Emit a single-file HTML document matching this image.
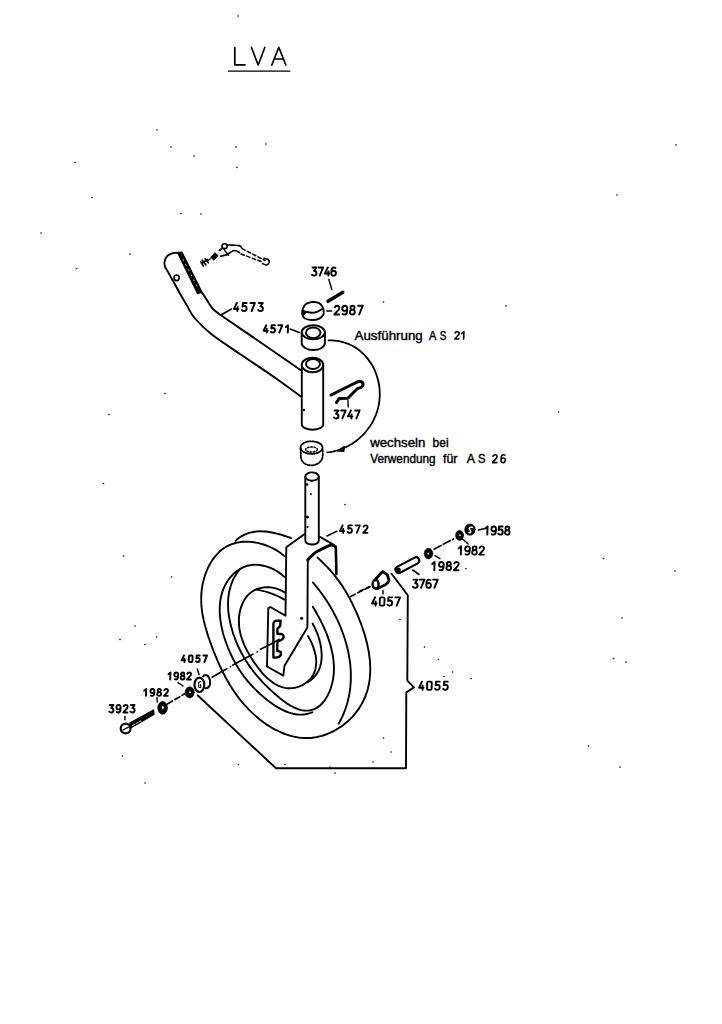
<!DOCTYPE html>
<html><head><meta charset="utf-8"><style>
html,body{margin:0;padding:0;background:#fff;width:722px;height:1024px;overflow:hidden}
svg{display:block;position:absolute;left:0;top:0}
</style></head><body>
<svg width="722" height="1024" viewBox="0 0 722 1024">
<g fill="none" stroke="#000" stroke-linecap="round" stroke-linejoin="round">
<path d="M234.8 47.5 L234.8 64.8 L245.0 64.8" stroke-width="1.7"/>
<path d="M251.5 47.5 L258.2 65.0 L264.8 47.5" stroke-width="1.7"/>
<path d="M271.8 65.0 L278.8 47.3 L285.8 65.0" stroke-width="1.7"/>
<path d="M274.3 59.0 L283.3 59.0" stroke-width="1.7"/>
<path d="M228.5 71.2 L289.8 71.2" stroke-width="1.2"/>
<path d="M173.7 252.9 C172.7 253.4 169.0 254.4 167.5 255.8 C166.0 257.2 165.0 259.8 164.6 261.6 C164.2 263.4 164.4 264.8 165.0 266.6 C165.6 268.4 167.1 270.2 168.3 272.4 C169.6 274.6 171.8 278.7 172.5 280.0" stroke-width="1.9"/>
<path d="M172.5 280.0 C174.8 284.2 182.9 298.7 186.6 305.0 C190.3 311.3 190.5 313.2 194.6 318.0 C198.7 322.8 203.6 328.0 211.2 334.0 C218.8 340.0 228.9 346.4 240.0 354.0 C251.1 361.6 267.8 372.6 277.9 379.7 C288.0 386.8 297.0 393.7 300.8 396.5" stroke-width="1.9"/>
<path d="M173.7 252.9 L178.5 252.7" stroke-width="1.9"/>
<path d="M177.9 252.9 L181.8 252.3 L201.8 292 L197.6 293.4 Z" stroke-width="1.6" fill="#000"/>
<path d="M183.0 259.5 L197.5 287.0" stroke-width="0.8" stroke="#fff" stroke-dasharray="0.8 5"/>
<path d="M201.6 292.5 C202.1 293.1 203.3 294.5 204.3 296.0 C205.3 297.5 206.4 299.3 207.8 301.5 C209.2 303.7 210.8 306.7 213.0 309.0 C215.2 311.3 213.2 309.8 221.0 315.3 C228.8 320.8 246.8 332.9 260.0 342.0 C273.2 351.1 293.8 365.3 300.5 370.0" stroke-width="1.9"/>
<ellipse cx="176.6" cy="277.8" rx="2.6" ry="2.8" stroke-width="1.6"/>
<path d="M201.5 263.5 L207.5 259.5 M202 260 L206 265 M200.8 261.8 L203.5 266 M205 258.8 L208.3 262.8" stroke-width="1.6"/>
<path d="M207.8 260.8 L210.5 258.8" stroke-width="1.3"/>
<path d="M212.0 259.0 L216.8 254.0" stroke-width="5.0" stroke-linecap="butt"/>
<ellipse cx="224.6" cy="246.2" rx="2.6" ry="2.4" stroke-width="1.6"/>
<path d="M227.2 245.0 C228.2 245.0 230.9 245.1 233.0 245.2 C235.1 245.3 238.1 245.2 239.5 245.6 C240.9 246.0 241.2 247.2 241.5 247.5" stroke-width="1.7"/>
<path d="M219.5 250.0 L222.5 248.0" stroke-width="1.5"/>
<path d="M219.5 250.5 C220.1 250.2 222.2 248.5 223.0 248.4 C223.8 248.3 223.7 249.1 224.3 249.8 C224.9 250.5 225.7 251.6 226.4 252.5 C227.1 253.4 228.2 254.8 228.5 255.3" stroke-width="1.4"/>
<path d="M220.5 256.2 C221.6 255.9 225.2 255.3 227.0 254.6 C228.8 253.9 229.9 252.5 231.2 251.8 C232.5 251.1 233.3 250.4 234.7 250.5 C236.1 250.6 238.7 252.2 239.5 252.5" stroke-width="1.7"/>
<path d="M242.0 248.6 L265.0 260.5" stroke-width="1.5" stroke-dasharray="3.5 2.5"/>
<path d="M241.0 254.0 L261.0 261.5" stroke-width="1.5" stroke-dasharray="3.5 2.5"/>
<path d="M264.0 258.3 C264.7 258.5 267.1 258.8 268.0 259.5 C268.9 260.2 269.4 261.6 269.2 262.5 C268.9 263.4 267.6 264.8 266.5 265.0 C265.4 265.2 263.2 263.8 262.5 263.5" stroke-width="1.6"/>
<path d="M328.0 301.3 L342.8 292.3" stroke-width="3.4"/>
<path d="M328.8 279.4 L331.8 289.5" stroke-width="1.5"/>
<path d="M312.6 301.8 C313.6 302.0 316.9 302.1 318.5 302.8 C320.1 303.5 321.2 304.8 322.0 306.0 C322.8 307.2 323.3 308.6 323.5 310.0 C323.7 311.4 324.1 313.1 323.4 314.5 C322.7 315.9 321.3 317.7 319.3 318.6 C317.3 319.5 313.8 320.1 311.3 320.0 C308.9 319.9 306.1 319.1 304.6 318.2 C303.1 317.3 302.6 316.1 302.3 314.6 C302.0 313.2 302.1 311.2 302.6 309.5 C303.2 307.8 303.9 305.5 305.6 304.2 C307.3 302.9 311.4 302.2 312.6 301.8" stroke-width="1.9"/>
<path d="M303.2 311.3 C303.7 311.4 304.6 311.4 306.0 311.6 C307.4 311.9 309.5 312.8 311.3 312.8 C313.1 312.8 315.2 312.4 317.0 311.8 C318.8 311.2 321.0 309.6 321.8 309.2" stroke-width="1.9"/>
<path d="M302.6 310 L306.3 312 L303 316.2 Z" stroke-width="1.0" fill="#000"/>
<path d="M326.8 311.0 L331.5 311.0" stroke-width="1.6"/>
<ellipse cx="313.3" cy="332.3" rx="11.6" ry="7.0" stroke-width="1.9"/>
<ellipse cx="313.2" cy="332.8" rx="7.3" ry="5.3" stroke-width="1.9"/>
<path d="M301.7 332.3 L301.7 343 A11.6 7 0 0 0 324.9 343 L324.9 332.3" stroke-width="1.9"/>
<path d="M290.3 329.0 L299.3 332.4" stroke-width="1.6"/>
<ellipse cx="312.5" cy="365.0" rx="10.8" ry="7.2" stroke-width="1.9"/>
<ellipse cx="313.0" cy="364.0" rx="7.0" ry="5.0" stroke-width="1.9"/>
<path d="M301.8 365 L301.8 424.5 A10.7 5.2 0 0 0 323.2 424.5 L323.2 365" stroke-width="1.9"/>
<circle cx="304.0" cy="410.0" r="1.2" fill="#000" stroke="none"/>
<path d="M331 395 L349 386 L358.5 381.3 C362 380.8 364 383.5 362.5 386 C361.5 387.5 359.5 388.3 357.5 388.5 L347.8 398.3 L339 398.6 L336.5 402.5" stroke-width="3.0"/>
<path d="M348.0 400.5 L348.2 407.0" stroke-width="1.4"/>
<path d="M328.6 340.4 L331.6 340.4 L334.5 340.6 L337.3 340.9 L340.0 341.4 L342.7 342.0 L345.2 342.8 L347.7 343.7 L350.1 344.7 L352.4 345.8 L354.7 347.1 L356.8 348.5 L358.9 350.0 L360.9 351.6 L362.7 353.3 L364.5 355.0 L366.2 356.9 L367.8 358.9 L369.3 360.9 L370.7 363.0 L372.1 365.1 L373.3 367.4 L374.4 369.6 L375.4 372.0 L376.3 374.4 L377.1 376.8 L377.8 379.2 L378.4 381.7 L378.9 384.2 L379.3 386.7 L379.6 389.3 L379.7 391.8 L379.8 394.4 L379.7 396.9 L379.5 399.4 L379.3 402.0 L378.8 404.5 L378.3 407.0 L377.7 409.4 L377.0 411.9 L376.1 414.3 L375.1 416.7 L374.1 419.0 L372.9 421.3 L371.7 423.5 L370.3 425.7 L368.8 427.8 L367.3 429.8 L365.7 431.8 L364.0 433.8 L362.2 435.6 L360.3 437.4 L358.4 439.1 L356.3 440.8 L354.2 442.3 L352.1 443.7 L349.8 445.1 L347.6 446.3 L345.2 447.5 L342.8 448.5 L340.3 449.5 L337.8 450.3 L335.2 451.0 L332.6 451.6 L330.0 452.1 L327.3 452.4" stroke-width="1.8"/>
<path d="M337.5 450.8 L344.5 446.3 L343.8 451.5 Z" stroke-width="1.2" fill="#000"/>
<ellipse cx="311.5" cy="447.6" rx="11.0" ry="6.3" stroke-width="1.8" stroke-dasharray="2.2 1.3"/>
<ellipse cx="311.5" cy="449.5" rx="5.8" ry="2.6" stroke-width="1.5" stroke-dasharray="1.6 1.6"/>
<path d="M300.6 448 L300.8 456 C301 462 305 465.3 311 465.3 C317 465.3 322 462 322.8 456 L322.6 448" stroke-width="1.8" stroke-dasharray="2.4 1.6"/>
<ellipse cx="312.0" cy="476.6" rx="6.7" ry="4.2" stroke-width="1.9"/>
<path d="M305.3 476.6 L305.3 540.5 A6.75 4 0 0 0 318.8 540.5 L318.8 476.6" stroke-width="1.9"/>
<circle cx="307.0" cy="484.5" r="1.3" fill="#000" stroke="none"/>
<circle cx="311.0" cy="494.0" r="0.9" fill="#000" stroke="none"/>
<circle cx="307.5" cy="517.0" r="1.5" fill="#000" stroke="none"/>
<circle cx="307.5" cy="527.0" r="1.1" fill="#000" stroke="none"/>
<path d="M327.0 536.0 L336.8 531.3" stroke-width="1.6"/>
<path d="M304.3 534.2 L286.3 547.3 L285.5 615.8 L270.4 607.0 L268.3 608.3 L267.0 666.5 L283.3 675.6 L284.5 665.7 L307.4 627.4 L307.8 559.8" stroke-width="1.9"/>
<path d="M307.8 559.8 C308.6 559.0 310.9 556.5 312.6 555.0 C314.3 553.5 315.0 552.6 318.0 551.0 C321.0 549.4 327.7 545.9 330.6 545.2 C333.5 544.5 334.7 546.4 335.5 546.6" stroke-width="3.0"/>
<path d="M318.9 536.2 L332.0 543.9 L335.8 547.0" stroke-width="1.9"/>
<path d="M335.8 547.0 L336.4 573.9" stroke-width="2.6"/>
<path d="M273.4 657.5 L273.4 623.5 C274 621.2 275.5 620.6 277 620.6 L280.6 620.8 L280.2 626 L277.4 628.8 L277.4 633.8 L282.2 634.3 C284.3 635.6 284.3 638.6 281.3 640 L277.4 641.6 L277.2 650.8 L280.8 651.8 L280.8 655 C279.8 657 277.5 658 273.4 657.5 Z" stroke-width="2.4"/>
<circle cx="301.6" cy="618.3" r="1.5" fill="#000" stroke="none"/>
<path d="M284.3 556.1 L282.3 554.4 L280.2 552.8 L278.0 551.3 L275.8 549.9 L273.4 548.6 L271.1 547.5 L268.7 546.4 L266.2 545.4 L263.7 544.5 L261.2 543.8 L258.7 543.1 L256.1 542.6 L253.6 542.2 L251.1 541.9 L248.5 541.8 L246.0 541.7 L243.5 541.8 L241.1 542.0 L238.7 542.4 L236.3 542.8 L234.0 543.5 L231.7 544.2 L229.5 545.1 L227.4 546.1 L225.3 547.3 L223.3 548.6 L221.4 550.1 L219.6 551.6 L217.9 553.3 L216.3 555.1 L214.7 556.9 L213.2 558.9 L211.8 561.0 L210.5 563.1 L209.3 565.3 L208.1 567.6 L207.1 569.9 L206.1 572.3 L205.2 574.7 L204.4 577.2 L203.7 579.7 L203.1 582.2 L202.5 584.7 L202.1 587.2 L201.7 589.8 L201.5 592.3 L201.3 594.8 L201.2 597.4 L201.2 599.9 L201.3 602.4 L201.4 604.9 L201.6 607.4 L201.9 609.9 L202.2 612.4 L202.6 614.9 L203.1 617.3 L203.6 619.8 L204.2 622.2 L204.8 624.7 L205.5 627.1 L206.2 629.6 L206.9 632.0 L207.6 634.4 L208.4 636.9 L209.3 639.3 L210.1 641.7 L211.0 644.1 L211.8 646.4 L212.7 648.8 L213.6 651.2 L214.6 653.6 L215.5 655.9 L216.5 658.2 L217.5 660.6 L218.5 662.9 L219.5 665.2 L220.6 667.5 L221.7 669.7 L222.8 672.0 L223.9 674.2 L225.1 676.5 L226.3 678.7 L227.5 680.8 L228.8 683.0 L230.0 685.2 L231.4 687.3 L232.7 689.4 L234.1 691.5 L235.5 693.5 L237.0 695.6 L238.5 697.6 L240.0 699.6 L241.6 701.5 L243.2 703.4 L244.9 705.3 L246.6 707.2 L248.4 709.1 L250.2 710.9 L252.0 712.7 L253.9 714.4 L255.8 716.1 L257.7 717.8 L259.7 719.4 L261.8 721.0 L263.8 722.5 L265.9 724.0 L268.0 725.4 L270.2 726.8 L272.4 728.1 L274.6 729.3 L276.8 730.4 L279.1 731.5 L281.4 732.6 L283.7 733.5 L286.0 734.4 L288.3 735.1 L290.7 735.8 L293.0 736.4 L295.4 736.9 L297.8 737.4 L300.2 737.7 L302.6 737.9 L305.0 738.0 L307.5 738.0 L309.9 738.0 L312.3 737.8 L314.8 737.4 L317.2 737.0 L319.6 736.4 L322.1 735.8 L324.5 735.0 L326.9 734.1 L329.2 733.2 L331.6 732.1 L333.9 730.9 L336.2 729.6 L338.4 728.3 L340.6 726.9 L342.7 725.4 L344.8 723.8 L346.8 722.1 L348.7 720.4 L350.6 718.6 L352.4 716.8 L354.1 714.9 L355.7 712.9 L357.2 710.9 L358.7 708.9 L360.1 706.8 L361.3 704.6 L362.5 702.5 L363.6 700.2 L364.7 698.0 L365.6 695.7 L366.4 693.4 L367.2 691.1 L367.9 688.7 L368.4 686.3 L368.9 683.9 L369.4 681.5 L369.7 679.1 L369.9 676.7 L370.1 674.2 L370.2 671.7 L370.3 669.2 L370.2 666.7 L370.1 664.2 L370.0 661.7 L369.7 659.2 L369.4 656.7 L369.1 654.2 L368.7 651.6 L368.2 649.1 L367.7 646.6 L367.2 644.1 L366.5 641.6 L365.9 639.1 L365.2 636.6 L364.5 634.1 L363.7 631.6 L362.9 629.2 L362.0 626.7 L361.2 624.3 L360.3 621.9 L359.3 619.5 L358.4 617.1 L357.4 614.7 L356.4 612.4 L355.4 610.1 L354.3 607.8 L353.2 605.5 L352.2 603.3 L351.0 601.1 L349.9 598.9 L348.7 596.7 L347.5 594.5 L346.3 592.4 L345.0 590.3 L343.7 588.2 L342.4 586.1 L341.0 584.1 L339.6 582.1 L338.1 580.1 L336.7 578.1 L335.1 576.1 L333.6 574.2 L332.0 572.3 L330.3 570.4 L328.6 568.5 L326.9 566.6 L325.1 564.8 L323.3 563.0 L321.4 561.2 L319.5 559.4 L317.5 557.6" stroke-width="1.9"/>
<path d="M235.5 540.9 L237.6 538.9 L239.9 537.3 L242.2 535.8 L244.6 534.6 L247.0 533.6 L249.5 532.8 L252.0 532.2 L254.6 531.7 L257.2 531.4 L259.8 531.3 L262.4 531.4 L265.1 531.5 L267.8 531.8 L270.4 532.2 L273.1 532.7 L275.7 533.3 L278.4 534.0 L281.0 534.7 L283.5 535.5 L286.1 536.3 L288.6 537.2 L291.0 538.0" stroke-width="1.9"/>
<path d="M284.4 576.9 L282.3 575.1 L280.2 573.4 L278.0 571.9 L275.7 570.5 L273.3 569.2 L270.9 568.1 L268.4 567.1 L265.9 566.3 L263.4 565.7 L260.9 565.2 L258.4 564.9 L255.9 564.8 L253.4 564.8 L251.0 565.1 L248.6 565.5 L246.2 566.2 L243.9 567.0 L241.7 568.1 L239.6 569.2 L237.6 570.6 L235.6 572.1 L233.7 573.7 L232.0 575.5 L230.3 577.3 L228.8 579.3 L227.4 581.3 L226.1 583.5 L224.9 585.6 L223.9 587.8 L222.9 590.1 L222.2 592.4 L221.5 594.8 L220.9 597.2 L220.5 599.6 L220.1 602.1 L219.9 604.5 L219.7 607.1 L219.7 609.6 L219.7 612.1 L219.9 614.7 L220.1 617.3 L220.4 619.8 L220.8 622.4 L221.2 625.0 L221.7 627.6 L222.3 630.1 L222.9 632.7 L223.6 635.2 L224.4 637.7 L225.2 640.2 L226.1 642.7 L227.0 645.1 L227.9 647.5 L228.9 649.9 L229.9 652.2 L230.9 654.5 L232.0 656.8 L233.1 659.0 L234.3 661.2 L235.5 663.4 L236.7 665.5 L238.0 667.6 L239.3 669.7 L240.7 671.8 L242.1 673.8 L243.5 675.8 L245.0 677.7 L246.5 679.6 L248.1 681.6 L249.7 683.4 L251.4 685.3 L253.1 687.1 L254.8 688.9 L256.6 690.7 L258.5 692.5 L260.3 694.2 L262.3 695.9 L264.3 697.6 L266.3 699.3 L268.4 700.9 L270.5 702.5 L272.6 704.0 L274.8 705.5 L277.0 706.9 L279.3 708.2 L281.6 709.4 L283.8 710.5 L286.2 711.5 L288.5 712.4 L290.8 713.1 L293.2 713.7 L295.6 714.2 L298.0 714.5 L300.3 714.6 L302.7 714.5 L305.1 714.3 L307.5 713.8 L309.8 713.2 L312.2 712.3" stroke-width="1.9"/>
<path d="M239.7 569.5 L238.1 571.5 L236.6 573.6 L235.3 575.7 L234.0 577.9 L232.9 580.1 L232.0 582.4 L231.1 584.7 L230.4 587.1 L229.7 589.4 L229.2 591.9 L228.8 594.3 L228.4 596.8 L228.2 599.3 L228.1 601.8 L228.0 604.3 L228.1 606.8 L228.2 609.4 L228.4 611.9 L228.7 614.5 L229.1 617.0 L229.6 619.6 L230.1 622.1 L230.6 624.6 L231.3 627.1 L232.0 629.6 L232.7 632.1 L233.5 634.6 L234.4 637.0 L235.3 639.4 L236.2 641.8 L237.2 644.1 L238.2 646.4 L239.3 648.7 L240.4 650.9 L241.5 653.1 L242.7 655.2 L243.9 657.4 L245.2 659.5 L246.5 661.5 L247.8 663.6 L249.2 665.6 L250.6 667.6 L252.0 669.5 L253.5 671.5 L255.0 673.4 L256.6 675.3 L258.2 677.2 L259.9 679.1 L261.6 681.0 L263.3 682.8 L265.1 684.7 L267.0 686.5 L268.8 688.3 L270.8 690.1 L272.7 691.9 L274.7 693.7 L276.8 695.6 L278.9 697.3 L281.0 699.1 L283.2 700.7 L285.4 702.3 L287.6 703.9 L289.9 705.3 L292.2 706.5 L294.4 707.7 L296.7 708.7 L299.0 709.5 L301.4 710.1 L303.7 710.5 L306.0 710.6 L308.2 710.6 L310.5 710.3 L312.6 709.7 L314.7 709.0 L316.7 707.9 L318.6 706.6 L320.4 705.2 L322.0 703.5 L323.6 701.7 L325.1 699.7 L326.4 697.6 L327.7 695.4 L328.8 693.1 L329.9 690.7 L330.8 688.3 L331.5 685.8 L332.2 683.3 L332.8 680.8 L333.2 678.3 L333.5 675.8 L333.8 673.3 L333.9 670.7 L333.9 668.2 L333.9 665.6 L333.7 663.1 L333.5 660.5 L333.2 658.0 L332.8 655.4 L332.3 652.9 L331.7 650.3 L331.1 647.8 L330.5 645.3 L329.7 642.8 L328.9 640.3 L328.1 637.9 L327.2 635.4 L326.3 633.0 L325.3 630.6 L324.3 628.3 L323.2 625.9 L322.1 623.6 L321.0 621.4 L319.9 619.2 L318.7 617.0 L317.5 614.9 L316.4 612.8 L315.2 610.7 L314.0 608.7 L312.8 606.8" stroke-width="1.9"/>
<path d="M284.4 592.3 L282.1 590.9 L279.7 589.8 L277.2 588.8 L274.7 588.1 L272.1 587.6 L269.4 587.3 L266.8 587.3 L264.2 587.4 L261.6 587.8 L259.1 588.4 L256.7 589.2 L254.4 590.2 L252.3 591.4 L250.3 592.9 L248.4 594.6 L246.8 596.4 L245.3 598.5 L244.0 600.6 L242.8 602.9 L241.8 605.3 L240.9 607.7 L240.2 610.1 L239.7 612.6 L239.3 615.0 L239.0 617.5 L238.9 619.9 L238.9 622.4 L239.0 624.8 L239.2 627.2 L239.6 629.7 L240.1 632.1 L240.6 634.5 L241.3 636.9 L242.1 639.3 L243.0 641.7 L243.9 644.1 L245.0 646.4 L246.1 648.8 L247.3 651.1 L248.6 653.4 L249.9 655.7 L251.3 658.0 L252.8 660.3 L254.3 662.6 L255.9 664.8 L257.5 667.0 L259.1 669.2 L260.9 671.3 L262.6 673.3 L264.4 675.3 L266.3 677.2 L268.2 678.9 L270.2 680.6 L272.2 682.1 L274.2 683.5 L276.3 684.7 L278.5 685.8 L280.7 686.7 L282.9 687.4 L285.2 687.9 L287.5 688.2 L289.9 688.3 L292.3 688.1 L294.8 687.8 L297.2 687.1 L299.6 686.3 L302.0 685.3 L304.2 684.1 L306.3 682.6 L308.3 681.0 L310.1 679.3 L311.7 677.3 L313.0 675.2 L314.1 673.0 L315.0 670.7 L315.6 668.2 L316.0 665.7 L316.2 663.2 L316.2 660.6 L316.0 657.9 L315.6 655.3 L315.0 652.7 L314.3 650.1 L313.5 647.6 L312.5 645.1 L311.5 642.7 L310.4 640.4 L309.3 638.2 L308.1 636.1" stroke-width="1.9"/>
<path d="M256.6 589.6 L259.5 590.1 L262.4 590.8 L265.3 591.5 L268.1 592.4 L270.9 593.3 L273.7 594.4 L276.4 595.5 L279.1 596.8 L281.7 598.1 L284.3 599.6" stroke-width="1.8"/>
<path d="M312.6 623.6 L313.7 625.7 L314.9 627.9 L315.9 630.2 L316.9 632.6 L317.9 635.0 L318.7 637.5 L319.5 640.1 L320.1 642.7 L320.7 645.4 L321.1 648.1 L321.4 650.7 L321.6 653.4 L321.7 656.0 L321.5 658.7 L321.3 661.2 L320.8 663.8 L320.2 666.2 L319.4 668.6 L318.4 670.9 L317.1 673.1 L315.7 675.2 L314.0 677.2 L312.1 679.0 L310.0 680.7 L307.6 682.2" stroke-width="1.9"/>
<path d="M312.9 582.5 L314.5 584.4 L316.1 586.3 L317.6 588.2 L319.2 590.2 L320.7 592.2 L322.2 594.2 L323.6 596.3 L325.1 598.4 L326.5 600.5 L327.8 602.6 L329.2 604.8 L330.5 607.0 L331.8 609.2 L333.0 611.4 L334.2 613.7 L335.4 616.0 L336.6 618.3 L337.7 620.6 L338.7 622.9 L339.8 625.3 L340.8 627.7 L341.7 630.1 L342.6 632.5 L343.5 634.9 L344.3 637.3 L345.1 639.8 L345.8 642.3 L346.5 644.7 L347.2 647.2 L347.8 649.7 L348.3 652.2 L348.8 654.7 L349.2 657.2 L349.6 659.7 L350.0 662.2 L350.3 664.7 L350.5 667.3 L350.7 669.8 L350.8 672.3 L350.8 674.8 L350.8 677.4 L350.8 679.9 L350.7 682.4 L350.5 684.9 L350.3 687.4 L350.0 689.9 L349.6 692.4 L349.2 694.9 L348.7 697.3 L348.1 699.8 L347.5 702.3 L346.8 704.7 L346.0 707.1 L345.2 709.5 L344.3 711.9 L343.3 714.3 L342.3 716.7 L341.1 719.0 L339.9 721.3 L338.6 723.7" stroke-width="1.9"/>
<path d="M212.3 677.0 L226.8 668.8" stroke-width="1.8"/>
<circle cx="230.5" cy="666.6" r="0.9" fill="#000" stroke="none"/>
<path d="M233.0 665.0 L252.8 654.3" stroke-width="1.8"/>
<circle cx="257.2" cy="651.8" r="0.9" fill="#000" stroke="none"/>
<path d="M260.5 649.2 L270.0 644.5 L279.0 639.5" stroke-width="1.8"/>
<path d="M350.7 596.5 L372.0 585.5" stroke-width="1.7" stroke-dasharray="5 3"/>
<path d="M375 580 L380.8 573.3 L383 571.6 L387.4 575 L389 580.7 L387.4 583 L385 585 L377.5 588.6" stroke-width="2.8"/>
<ellipse cx="375.6" cy="584.2" rx="3.0" ry="4.3" stroke-width="2.4"/>
<path d="M383.0 590.5 L383.0 594.0" stroke-width="1.4"/>
<path d="M360.0 591.0 L371.0 586.5" stroke-width="1.6" stroke-dasharray="4 3"/>
<path d="M397 566.9 L414.6 557.6 A3.3 3.3 0 0 1 417.7 563.4 L400.1 572.7 A3.3 3.3 0 0 1 397 566.9 Z" stroke-width="2.2"/>
<circle cx="398.4" cy="570.0" r="2.4" fill="#000" stroke="none"/>
<path d="M412.8 570.0 L419.0 574.5" stroke-width="1.6"/>
<ellipse cx="428.5" cy="553.6" rx="4.3" ry="5.3" fill="#000" stroke="#000" stroke-width="0.6"/>
<circle cx="428.3" cy="553.7" r="0.9" fill="#fff" stroke="none"/>
<path d="M434.0 549.2 L453.3 539.0" stroke-width="1.7" stroke-dasharray="8 2.5"/>
<path d="M435.0 555.7 L440.0 558.6" stroke-width="1.4"/>
<ellipse cx="459.6" cy="535.4" rx="4.0" ry="5.0" fill="#000" stroke="#000" stroke-width="0.6"/>
<circle cx="460.0" cy="535.4" r="0.8" fill="#fff" stroke="none"/>
<path d="M462.8 539.2 L468.2 544.0" stroke-width="1.4"/>
<ellipse cx="470" cy="529.6" rx="5.3" ry="5.7" fill="#000" stroke="#000" stroke-width="0.6"/>
<path d="M472.5 527.5 C470 526.5 468.5 528.5 470 530 C471.5 531.5 470.5 533 468.8 532.8" stroke-width="1.5" stroke="#fff"/>
<path d="M478.5 530.0 L484.0 528.8" stroke-width="1.6"/>
<path d="M391.6 573.7 L407.8 595.3 L407.3 680.7 L414.0 687.4 L406.3 692.4 L406.0 768.3 L276.0 768.3 L197.8 695.5" stroke-width="1.9"/>
<path d="M203 676.5 C205 673.8 209 675 210 680.5 C210.8 685.5 208.5 688.5 205.5 688.3" stroke-width="2.0"/>
<ellipse cx="199.4" cy="684.8" rx="4.9" ry="7.2" stroke-width="2.1"/>
<path d="M200.8 681.5 L198.6 682.5 L198.8 687.2 L200.8 687.5 L200.5 684.5" stroke-width="1.1"/>
<path d="M197.3 669.0 L199.0 674.5" stroke-width="1.5"/>
<path d="M167.3 704.0 L185.0 693.6" stroke-width="1.7" stroke-dasharray="6 2.5"/>
<ellipse cx="189.7" cy="692.4" rx="4.6" ry="5.6" fill="#000" stroke="#000" stroke-width="0.6"/>
<circle cx="190.0" cy="692.2" r="0.9" fill="#fff" stroke="none"/>
<path d="M178.0 682.6 L183.0 686.0" stroke-width="1.4"/>
<ellipse cx="162.6" cy="707.9" rx="4.8" ry="6.3" fill="#000" stroke="#000" stroke-width="0.8"/>
<ellipse cx="162.8" cy="707.5" rx="1.0" ry="1.6" fill="#fff" stroke="none"/>
<path d="M157.0 697.5 L157.2 702.0" stroke-width="1.4"/>
<path d="M129.8 723.2 L153.5 710 L153.8 714.5 L131.5 727.5 Z" stroke-width="1.4" fill="#000"/>
<path d="M132.5 725.5 L140.5 721.0" stroke-width="0.9" stroke="#fff" stroke-dasharray="2.5 1.5"/>
<ellipse cx="125.6" cy="728.5" rx="4.9" ry="4.9" stroke-width="2.2"/>
<path d="M123.0 730.0 L128.5 727.2" stroke-width="1.3"/>
<path d="M125.0 716.5 L125.0 719.8" stroke-width="1.4"/>
<path d="M3.1 0 L0 6.7 L5 6.7 M3.9 4.4 L3.9 9" transform="matrix(0.900 0 -0.027 0.900 234.09 302.95)" stroke-width="1.9" vector-effect="non-scaling-stroke"/>
<path d="M4.8 0 L0.8 0 L0.5 3.9 Q1.3 3.4 2.5 3.4 Q5 3.4 5 6.2 Q5 9 2.5 9 Q0.9 9 0 7.9" transform="matrix(0.900 0 -0.027 0.900 242.25 302.95)" stroke-width="1.9" vector-effect="non-scaling-stroke"/>
<path d="M0 0 L5 0 L1.6 9" transform="matrix(0.900 0 -0.027 0.900 250.40 302.95)" stroke-width="1.9" vector-effect="non-scaling-stroke"/>
<path d="M0.4 0 L4.8 0 L2.2 3.7 Q5 3.8 5 6.4 Q5 9 2.5 9 Q0.9 9 0 7.9" transform="matrix(0.900 0 -0.027 0.900 258.55 302.95)" stroke-width="1.9" vector-effect="non-scaling-stroke"/>
<path d="M221.8 314.5 L231.5 309.0" stroke-width="1.6"/>
<path d="M3.1 0 L0 6.7 L5 6.7 M3.9 4.4 L3.9 9" transform="matrix(0.811 0 -0.024 0.811 263.77 325.25)" stroke-width="1.9" vector-effect="non-scaling-stroke"/>
<path d="M4.8 0 L0.8 0 L0.5 3.9 Q1.3 3.4 2.5 3.4 Q5 3.4 5 6.2 Q5 9 2.5 9 Q0.9 9 0 7.9" transform="matrix(0.811 0 -0.024 0.811 271.00 325.25)" stroke-width="1.9" vector-effect="non-scaling-stroke"/>
<path d="M0 0 L5 0 L1.6 9" transform="matrix(0.811 0 -0.024 0.811 278.23 325.25)" stroke-width="1.9" vector-effect="non-scaling-stroke"/>
<path d="M0.6 2.2 L3.2 0 L3.2 9" transform="matrix(0.811 0 -0.024 0.811 285.45 325.25)" stroke-width="1.9" vector-effect="non-scaling-stroke"/>
<path d="M0.4 0 L4.8 0 L2.2 3.7 Q5 3.8 5 6.4 Q5 9 2.5 9 Q0.9 9 0 7.9" transform="matrix(0.911 0 -0.027 0.911 312.10 267.45)" stroke-width="1.9" vector-effect="non-scaling-stroke"/>
<path d="M0 0 L5 0 L1.6 9" transform="matrix(0.911 0 -0.027 0.911 318.56 267.45)" stroke-width="1.9" vector-effect="non-scaling-stroke"/>
<path d="M3.1 0 L0 6.7 L5 6.7 M3.9 4.4 L3.9 9" transform="matrix(0.911 0 -0.027 0.911 325.03 267.45)" stroke-width="1.9" vector-effect="non-scaling-stroke"/>
<path d="M4.4 0.4 Q3.6 0 2.6 0 Q0 0 0 4.5 L0 6.3 Q0 9 2.5 9 Q5 9 5 6.3 Q5 3.7 2.5 3.7 Q0.9 3.7 0 5" transform="matrix(0.911 0 -0.027 0.911 331.49 267.45)" stroke-width="1.9" vector-effect="non-scaling-stroke"/>
<path d="M0.2 1.6 Q0.8 0 2.6 0 Q5 0 5 2.3 Q5 3.7 3.2 5.3 L0 9 L5 9" transform="matrix(0.967 0 -0.029 0.967 334.61 305.75)" stroke-width="1.9" vector-effect="non-scaling-stroke"/>
<path d="M0.6 8.6 Q1.4 9 2.4 9 Q5 9 5 4.5 L5 2.7 Q5 0 2.5 0 Q0 0 0 2.7 Q0 5.3 2.5 5.3 Q4.1 5.3 5 4" transform="matrix(0.967 0 -0.029 0.967 342.38 305.75)" stroke-width="1.9" vector-effect="non-scaling-stroke"/>
<path d="M2.5 0 Q0.4 0 0.4 2.1 Q0.4 4.1 2.5 4.1 Q4.6 4.1 4.6 2.1 Q4.6 0 2.5 0 Z M2.5 4.1 Q0 4.1 0 6.6 Q0 9 2.5 9 Q5 9 5 6.6 Q5 4.1 2.5 4.1 Z" transform="matrix(0.967 0 -0.029 0.967 350.15 305.75)" stroke-width="1.9" vector-effect="non-scaling-stroke"/>
<path d="M0 0 L5 0 L1.6 9" transform="matrix(0.967 0 -0.029 0.967 357.92 305.75)" stroke-width="1.9" vector-effect="non-scaling-stroke"/>
<path d="M0.4 0 L4.8 0 L2.2 3.7 Q5 3.8 5 6.4 Q5 9 2.5 9 Q0.9 9 0 7.9" transform="matrix(0.889 0 -0.027 0.889 334.19 410.45)" stroke-width="1.9" vector-effect="non-scaling-stroke"/>
<path d="M0 0 L5 0 L1.6 9" transform="matrix(0.889 0 -0.027 0.889 341.20 410.45)" stroke-width="1.9" vector-effect="non-scaling-stroke"/>
<path d="M3.1 0 L0 6.7 L5 6.7 M3.9 4.4 L3.9 9" transform="matrix(0.889 0 -0.027 0.889 348.20 410.45)" stroke-width="1.9" vector-effect="non-scaling-stroke"/>
<path d="M0 0 L5 0 L1.6 9" transform="matrix(0.889 0 -0.027 0.889 355.21 410.45)" stroke-width="1.9" vector-effect="non-scaling-stroke"/>
<path d="M3.1 0 L0 6.7 L5 6.7 M3.9 4.4 L3.9 9" transform="matrix(0.833 0 -0.025 0.833 340.07 525.35)" stroke-width="1.9" vector-effect="non-scaling-stroke"/>
<path d="M4.8 0 L0.8 0 L0.5 3.9 Q1.3 3.4 2.5 3.4 Q5 3.4 5 6.2 Q5 9 2.5 9 Q0.9 9 0 7.9" transform="matrix(0.833 0 -0.025 0.833 347.88 525.35)" stroke-width="1.9" vector-effect="non-scaling-stroke"/>
<path d="M0 0 L5 0 L1.6 9" transform="matrix(0.833 0 -0.025 0.833 355.68 525.35)" stroke-width="1.9" vector-effect="non-scaling-stroke"/>
<path d="M0.2 1.6 Q0.8 0 2.6 0 Q5 0 5 2.3 Q5 3.7 3.2 5.3 L0 9 L5 9" transform="matrix(0.833 0 -0.025 0.833 363.48 525.35)" stroke-width="1.9" vector-effect="non-scaling-stroke"/>
<path d="M0.6 2.2 L3.2 0 L3.2 9" transform="matrix(0.911 0 -0.027 0.911 484.65 526.45)" stroke-width="1.9" vector-effect="non-scaling-stroke"/>
<path d="M0.6 8.6 Q1.4 9 2.4 9 Q5 9 5 4.5 L5 2.7 Q5 0 2.5 0 Q0 0 0 2.7 Q0 5.3 2.5 5.3 Q4.1 5.3 5 4" transform="matrix(0.911 0 -0.027 0.911 491.50 526.45)" stroke-width="1.9" vector-effect="non-scaling-stroke"/>
<path d="M4.8 0 L0.8 0 L0.5 3.9 Q1.3 3.4 2.5 3.4 Q5 3.4 5 6.2 Q5 9 2.5 9 Q0.9 9 0 7.9" transform="matrix(0.911 0 -0.027 0.911 498.35 526.45)" stroke-width="1.9" vector-effect="non-scaling-stroke"/>
<path d="M2.5 0 Q0.4 0 0.4 2.1 Q0.4 4.1 2.5 4.1 Q4.6 4.1 4.6 2.1 Q4.6 0 2.5 0 Z M2.5 4.1 Q0 4.1 0 6.6 Q0 9 2.5 9 Q5 9 5 6.6 Q5 4.1 2.5 4.1 Z" transform="matrix(0.911 0 -0.027 0.911 505.19 526.45)" stroke-width="1.9" vector-effect="non-scaling-stroke"/>
<path d="M0.6 2.2 L3.2 0 L3.2 9" transform="matrix(0.922 0 -0.028 0.922 458.15 546.35)" stroke-width="1.9" vector-effect="non-scaling-stroke"/>
<path d="M0.6 8.6 Q1.4 9 2.4 9 Q5 9 5 4.5 L5 2.7 Q5 0 2.5 0 Q0 0 0 2.7 Q0 5.3 2.5 5.3 Q4.1 5.3 5 4" transform="matrix(0.922 0 -0.028 0.922 465.24 546.35)" stroke-width="1.9" vector-effect="non-scaling-stroke"/>
<path d="M2.5 0 Q0.4 0 0.4 2.1 Q0.4 4.1 2.5 4.1 Q4.6 4.1 4.6 2.1 Q4.6 0 2.5 0 Z M2.5 4.1 Q0 4.1 0 6.6 Q0 9 2.5 9 Q5 9 5 6.6 Q5 4.1 2.5 4.1 Z" transform="matrix(0.922 0 -0.028 0.922 472.34 546.35)" stroke-width="1.9" vector-effect="non-scaling-stroke"/>
<path d="M0.2 1.6 Q0.8 0 2.6 0 Q5 0 5 2.3 Q5 3.7 3.2 5.3 L0 9 L5 9" transform="matrix(0.922 0 -0.028 0.922 479.44 546.35)" stroke-width="1.9" vector-effect="non-scaling-stroke"/>
<path d="M0.6 2.2 L3.2 0 L3.2 9" transform="matrix(0.922 0 -0.028 0.922 431.65 561.95)" stroke-width="1.9" vector-effect="non-scaling-stroke"/>
<path d="M0.6 8.6 Q1.4 9 2.4 9 Q5 9 5 4.5 L5 2.7 Q5 0 2.5 0 Q0 0 0 2.7 Q0 5.3 2.5 5.3 Q4.1 5.3 5 4" transform="matrix(0.922 0 -0.028 0.922 439.14 561.95)" stroke-width="1.9" vector-effect="non-scaling-stroke"/>
<path d="M2.5 0 Q0.4 0 0.4 2.1 Q0.4 4.1 2.5 4.1 Q4.6 4.1 4.6 2.1 Q4.6 0 2.5 0 Z M2.5 4.1 Q0 4.1 0 6.6 Q0 9 2.5 9 Q5 9 5 6.6 Q5 4.1 2.5 4.1 Z" transform="matrix(0.922 0 -0.028 0.922 446.64 561.95)" stroke-width="1.9" vector-effect="non-scaling-stroke"/>
<path d="M0.2 1.6 Q0.8 0 2.6 0 Q5 0 5 2.3 Q5 3.7 3.2 5.3 L0 9 L5 9" transform="matrix(0.922 0 -0.028 0.922 454.14 561.95)" stroke-width="1.9" vector-effect="non-scaling-stroke"/>
<path d="M0.4 0 L4.8 0 L2.2 3.7 Q5 3.8 5 6.4 Q5 9 2.5 9 Q0.9 9 0 7.9" transform="matrix(0.911 0 -0.027 0.911 413.20 579.65)" stroke-width="1.9" vector-effect="non-scaling-stroke"/>
<path d="M0 0 L5 0 L1.6 9" transform="matrix(0.911 0 -0.027 0.911 419.86 579.65)" stroke-width="1.9" vector-effect="non-scaling-stroke"/>
<path d="M4.4 0.4 Q3.6 0 2.6 0 Q0 0 0 4.5 L0 6.3 Q0 9 2.5 9 Q5 9 5 6.3 Q5 3.7 2.5 3.7 Q0.9 3.7 0 5" transform="matrix(0.911 0 -0.027 0.911 426.53 579.65)" stroke-width="1.9" vector-effect="non-scaling-stroke"/>
<path d="M0 0 L5 0 L1.6 9" transform="matrix(0.911 0 -0.027 0.911 433.19 579.65)" stroke-width="1.9" vector-effect="non-scaling-stroke"/>
<path d="M3.1 0 L0 6.7 L5 6.7 M3.9 4.4 L3.9 9" transform="matrix(0.922 0 -0.028 0.922 372.20 597.35)" stroke-width="1.9" vector-effect="non-scaling-stroke"/>
<path d="M1.3 0 L3.7 0 Q5 0 5 1.6 L5 7.4 Q5 9 3.7 9 L1.3 9 Q0 9 0 7.4 L0 1.6 Q0 0 1.3 0 Z" transform="matrix(0.922 0 -0.028 0.922 379.95 597.35)" stroke-width="1.9" vector-effect="non-scaling-stroke"/>
<path d="M4.8 0 L0.8 0 L0.5 3.9 Q1.3 3.4 2.5 3.4 Q5 3.4 5 6.2 Q5 9 2.5 9 Q0.9 9 0 7.9" transform="matrix(0.922 0 -0.028 0.922 387.69 597.35)" stroke-width="1.9" vector-effect="non-scaling-stroke"/>
<path d="M0 0 L5 0 L1.6 9" transform="matrix(0.922 0 -0.028 0.922 395.44 597.35)" stroke-width="1.9" vector-effect="non-scaling-stroke"/>
<path d="M3.1 0 L0 6.7 L5 6.7 M3.9 4.4 L3.9 9" transform="matrix(0.911 0 -0.027 0.911 419.20 681.65)" stroke-width="1.9" vector-effect="non-scaling-stroke"/>
<path d="M1.3 0 L3.7 0 Q5 0 5 1.6 L5 7.4 Q5 9 3.7 9 L1.3 9 Q0 9 0 7.4 L0 1.6 Q0 0 1.3 0 Z" transform="matrix(0.911 0 -0.027 0.911 427.26 681.65)" stroke-width="1.9" vector-effect="non-scaling-stroke"/>
<path d="M4.8 0 L0.8 0 L0.5 3.9 Q1.3 3.4 2.5 3.4 Q5 3.4 5 6.2 Q5 9 2.5 9 Q0.9 9 0 7.9" transform="matrix(0.911 0 -0.027 0.911 435.33 681.65)" stroke-width="1.9" vector-effect="non-scaling-stroke"/>
<path d="M4.8 0 L0.8 0 L0.5 3.9 Q1.3 3.4 2.5 3.4 Q5 3.4 5 6.2 Q5 9 2.5 9 Q0.9 9 0 7.9" transform="matrix(0.911 0 -0.027 0.911 443.39 681.65)" stroke-width="1.9" vector-effect="non-scaling-stroke"/>
<path d="M3.1 0 L0 6.7 L5 6.7 M3.9 4.4 L3.9 9" transform="matrix(0.733 0 -0.022 0.733 181.75 655.45)" stroke-width="1.9" vector-effect="non-scaling-stroke"/>
<path d="M1.3 0 L3.7 0 Q5 0 5 1.6 L5 7.4 Q5 9 3.7 9 L1.3 9 Q0 9 0 7.4 L0 1.6 Q0 0 1.3 0 Z" transform="matrix(0.733 0 -0.022 0.733 188.96 655.45)" stroke-width="1.9" vector-effect="non-scaling-stroke"/>
<path d="M4.8 0 L0.8 0 L0.5 3.9 Q1.3 3.4 2.5 3.4 Q5 3.4 5 6.2 Q5 9 2.5 9 Q0.9 9 0 7.9" transform="matrix(0.733 0 -0.022 0.733 196.17 655.45)" stroke-width="1.9" vector-effect="non-scaling-stroke"/>
<path d="M0 0 L5 0 L1.6 9" transform="matrix(0.733 0 -0.022 0.733 203.38 655.45)" stroke-width="1.9" vector-effect="non-scaling-stroke"/>
<path d="M0.6 2.2 L3.2 0 L3.2 9" transform="matrix(0.767 0 -0.023 0.767 168.00 672.55)" stroke-width="1.9" vector-effect="non-scaling-stroke"/>
<path d="M0.6 8.6 Q1.4 9 2.4 9 Q5 9 5 4.5 L5 2.7 Q5 0 2.5 0 Q0 0 0 2.7 Q0 5.3 2.5 5.3 Q4.1 5.3 5 4" transform="matrix(0.767 0 -0.023 0.767 174.40 672.55)" stroke-width="1.9" vector-effect="non-scaling-stroke"/>
<path d="M2.5 0 Q0.4 0 0.4 2.1 Q0.4 4.1 2.5 4.1 Q4.6 4.1 4.6 2.1 Q4.6 0 2.5 0 Z M2.5 4.1 Q0 4.1 0 6.6 Q0 9 2.5 9 Q5 9 5 6.6 Q5 4.1 2.5 4.1 Z" transform="matrix(0.767 0 -0.023 0.767 180.81 672.55)" stroke-width="1.9" vector-effect="non-scaling-stroke"/>
<path d="M0.2 1.6 Q0.8 0 2.6 0 Q5 0 5 2.3 Q5 3.7 3.2 5.3 L0 9 L5 9" transform="matrix(0.767 0 -0.023 0.767 187.22 672.55)" stroke-width="1.9" vector-effect="non-scaling-stroke"/>
<path d="M0.6 2.2 L3.2 0 L3.2 9" transform="matrix(0.767 0 -0.023 0.767 143.70 688.95)" stroke-width="1.9" vector-effect="non-scaling-stroke"/>
<path d="M0.6 8.6 Q1.4 9 2.4 9 Q5 9 5 4.5 L5 2.7 Q5 0 2.5 0 Q0 0 0 2.7 Q0 5.3 2.5 5.3 Q4.1 5.3 5 4" transform="matrix(0.767 0 -0.023 0.767 150.54 688.95)" stroke-width="1.9" vector-effect="non-scaling-stroke"/>
<path d="M2.5 0 Q0.4 0 0.4 2.1 Q0.4 4.1 2.5 4.1 Q4.6 4.1 4.6 2.1 Q4.6 0 2.5 0 Z M2.5 4.1 Q0 4.1 0 6.6 Q0 9 2.5 9 Q5 9 5 6.6 Q5 4.1 2.5 4.1 Z" transform="matrix(0.767 0 -0.023 0.767 157.38 688.95)" stroke-width="1.9" vector-effect="non-scaling-stroke"/>
<path d="M0.2 1.6 Q0.8 0 2.6 0 Q5 0 5 2.3 Q5 3.7 3.2 5.3 L0 9 L5 9" transform="matrix(0.767 0 -0.023 0.767 164.22 688.95)" stroke-width="1.9" vector-effect="non-scaling-stroke"/>
<path d="M0.4 0 L4.8 0 L2.2 3.7 Q5 3.8 5 6.4 Q5 9 2.5 9 Q0.9 9 0 7.9" transform="matrix(0.833 0 -0.025 0.833 109.47 704.95)" stroke-width="1.9" vector-effect="non-scaling-stroke"/>
<path d="M0.6 8.6 Q1.4 9 2.4 9 Q5 9 5 4.5 L5 2.7 Q5 0 2.5 0 Q0 0 0 2.7 Q0 5.3 2.5 5.3 Q4.1 5.3 5 4" transform="matrix(0.833 0 -0.025 0.833 116.51 704.95)" stroke-width="1.9" vector-effect="non-scaling-stroke"/>
<path d="M0.2 1.6 Q0.8 0 2.6 0 Q5 0 5 2.3 Q5 3.7 3.2 5.3 L0 9 L5 9" transform="matrix(0.833 0 -0.025 0.833 123.55 704.95)" stroke-width="1.9" vector-effect="non-scaling-stroke"/>
<path d="M0.4 0 L4.8 0 L2.2 3.7 Q5 3.8 5 6.4 Q5 9 2.5 9 Q0.9 9 0 7.9" transform="matrix(0.833 0 -0.025 0.833 130.58 704.95)" stroke-width="1.9" vector-effect="non-scaling-stroke"/>
<path d="M0.2 1.6 Q0.8 0 2.6 0 Q5 0 5 2.3 Q5 3.7 3.2 5.3 L0 9 L5 9" transform="matrix(0.822 0 -0.025 0.822 455.02 331.60)" stroke-width="1.6" vector-effect="non-scaling-stroke"/>
<path d="M0.6 2.2 L3.2 0 L3.2 9" transform="matrix(0.822 0 -0.025 0.822 461.27 331.60)" stroke-width="1.6" vector-effect="non-scaling-stroke"/>
<path d="M0.2 1.6 Q0.8 0 2.6 0 Q5 0 5 2.3 Q5 3.7 3.2 5.3 L0 9 L5 9" transform="matrix(0.867 0 -0.026 0.867 492.73 454.80)" stroke-width="1.6" vector-effect="non-scaling-stroke"/>
<path d="M4.4 0.4 Q3.6 0 2.6 0 Q0 0 0 4.5 L0 6.3 Q0 9 2.5 9 Q5 9 5 6.3 Q5 3.7 2.5 3.7 Q0.9 3.7 0 5" transform="matrix(0.867 0 -0.026 0.867 501.17 454.80)" stroke-width="1.6" vector-effect="non-scaling-stroke"/>
<circle cx="238.0" cy="16.0" r="0.8" fill="#000" stroke="none"/>
<circle cx="157.0" cy="130.0" r="0.8" fill="#000" stroke="none"/>
<circle cx="171.0" cy="147.0" r="0.8" fill="#000" stroke="none"/>
<circle cx="194.0" cy="156.0" r="0.8" fill="#000" stroke="none"/>
<circle cx="236.0" cy="147.0" r="0.8" fill="#000" stroke="none"/>
<circle cx="266.0" cy="144.0" r="0.8" fill="#000" stroke="none"/>
<circle cx="75.0" cy="162.5" r="0.8" fill="#000" stroke="none"/>
<circle cx="237.0" cy="167.5" r="0.8" fill="#000" stroke="none"/>
<circle cx="92.0" cy="197.5" r="0.8" fill="#000" stroke="none"/>
<circle cx="181.0" cy="213.5" r="0.8" fill="#000" stroke="none"/>
<circle cx="201.0" cy="214.0" r="0.8" fill="#000" stroke="none"/>
<circle cx="41.0" cy="233.0" r="0.8" fill="#000" stroke="none"/>
<circle cx="130.0" cy="254.0" r="0.8" fill="#000" stroke="none"/>
<circle cx="676.0" cy="145.0" r="0.8" fill="#000" stroke="none"/>
<circle cx="617.0" cy="195.0" r="0.8" fill="#000" stroke="none"/>
<circle cx="76.5" cy="268.5" r="0.8" fill="#000" stroke="none"/>
<circle cx="165.0" cy="393.5" r="0.8" fill="#000" stroke="none"/>
<circle cx="109.0" cy="414.5" r="0.8" fill="#000" stroke="none"/>
<circle cx="103.5" cy="483.5" r="0.8" fill="#000" stroke="none"/>
<circle cx="345.0" cy="504.5" r="0.8" fill="#000" stroke="none"/>
<circle cx="383.5" cy="302.0" r="0.8" fill="#000" stroke="none"/>
<circle cx="506.0" cy="306.0" r="0.8" fill="#000" stroke="none"/>
<circle cx="558.5" cy="412.0" r="0.8" fill="#000" stroke="none"/>
<circle cx="123.5" cy="556.0" r="0.8" fill="#000" stroke="none"/>
<circle cx="171.5" cy="577.0" r="0.8" fill="#000" stroke="none"/>
<circle cx="135.0" cy="626.0" r="0.8" fill="#000" stroke="none"/>
<circle cx="120.0" cy="639.5" r="0.8" fill="#000" stroke="none"/>
<circle cx="145.0" cy="644.5" r="0.8" fill="#000" stroke="none"/>
<circle cx="156.5" cy="637.0" r="0.8" fill="#000" stroke="none"/>
<circle cx="122.5" cy="756.0" r="0.8" fill="#000" stroke="none"/>
<circle cx="238.5" cy="764.5" r="0.8" fill="#000" stroke="none"/>
<circle cx="285.0" cy="764.5" r="0.8" fill="#000" stroke="none"/>
<circle cx="330.0" cy="767.0" r="0.8" fill="#000" stroke="none"/>
<circle cx="603.5" cy="558.5" r="0.8" fill="#000" stroke="none"/>
<circle cx="675.0" cy="571.0" r="0.8" fill="#000" stroke="none"/>
<circle cx="466.0" cy="568.5" r="0.8" fill="#000" stroke="none"/>
<circle cx="622.0" cy="618.0" r="0.8" fill="#000" stroke="none"/>
<circle cx="400.0" cy="619.5" r="0.8" fill="#000" stroke="none"/>
<circle cx="424.5" cy="647.0" r="0.8" fill="#000" stroke="none"/>
<circle cx="438.5" cy="659.5" r="0.8" fill="#000" stroke="none"/>
<circle cx="452.5" cy="672.0" r="0.8" fill="#000" stroke="none"/>
<circle cx="471.0" cy="678.5" r="0.8" fill="#000" stroke="none"/>
<circle cx="613.5" cy="658.5" r="0.8" fill="#000" stroke="none"/>
<circle cx="626.0" cy="662.0" r="0.8" fill="#000" stroke="none"/>
<circle cx="588.5" cy="746.0" r="0.8" fill="#000" stroke="none"/>
<circle cx="383.5" cy="738.0" r="0.8" fill="#000" stroke="none"/>
<circle cx="391.0" cy="752.0" r="0.8" fill="#000" stroke="none"/>
<circle cx="620.0" cy="767.0" r="0.8" fill="#000" stroke="none"/>
<circle cx="145.0" cy="783.0" r="0.8" fill="#000" stroke="none"/>
<circle cx="335.0" cy="773.0" r="0.8" fill="#000" stroke="none"/>
<circle cx="444.0" cy="676.5" r="0.8" fill="#000" stroke="none"/>
<circle cx="373.0" cy="762.0" r="0.8" fill="#000" stroke="none"/>
</g>
<g fill="#000" stroke="#000" font-family="Liberation Sans, sans-serif">
<text x="354.5" y="339.5" font-size="12.2" font-weight="normal" stroke-width="0.4" textLength="68.3" lengthAdjust="spacingAndGlyphs">Ausführung</text>
<text x="429.0" y="339.5" font-size="12.2" font-weight="normal" stroke-width="0.4" textLength="7.4" lengthAdjust="spacingAndGlyphs">A</text>
<text x="439.8" y="339.5" font-size="12.2" font-weight="normal" stroke-width="0.4" textLength="6.6" lengthAdjust="spacingAndGlyphs">S</text>
<text x="370.2" y="446.5" font-size="12.2" font-weight="normal" stroke-width="0.4" textLength="55.2" lengthAdjust="spacingAndGlyphs">wechseln</text>
<text x="432.6" y="446.5" font-size="12.2" font-weight="normal" stroke-width="0.4" textLength="16.0" lengthAdjust="spacingAndGlyphs">bei</text>
<text x="370.2" y="463.0" font-size="12.2" font-weight="normal" stroke-width="0.4" textLength="65.4" lengthAdjust="spacingAndGlyphs">Verwendung</text>
<text x="443.0" y="463.0" font-size="12.2" font-weight="normal" stroke-width="0.4" textLength="14.5" lengthAdjust="spacingAndGlyphs">für</text>
<text x="466.8" y="463.0" font-size="12.2" font-weight="normal" stroke-width="0.4" textLength="8.2" lengthAdjust="spacingAndGlyphs">A</text>
<text x="478.0" y="463.0" font-size="12.2" font-weight="normal" stroke-width="0.4" textLength="7.5" lengthAdjust="spacingAndGlyphs">S</text>
</g>
</svg>
</body></html>
